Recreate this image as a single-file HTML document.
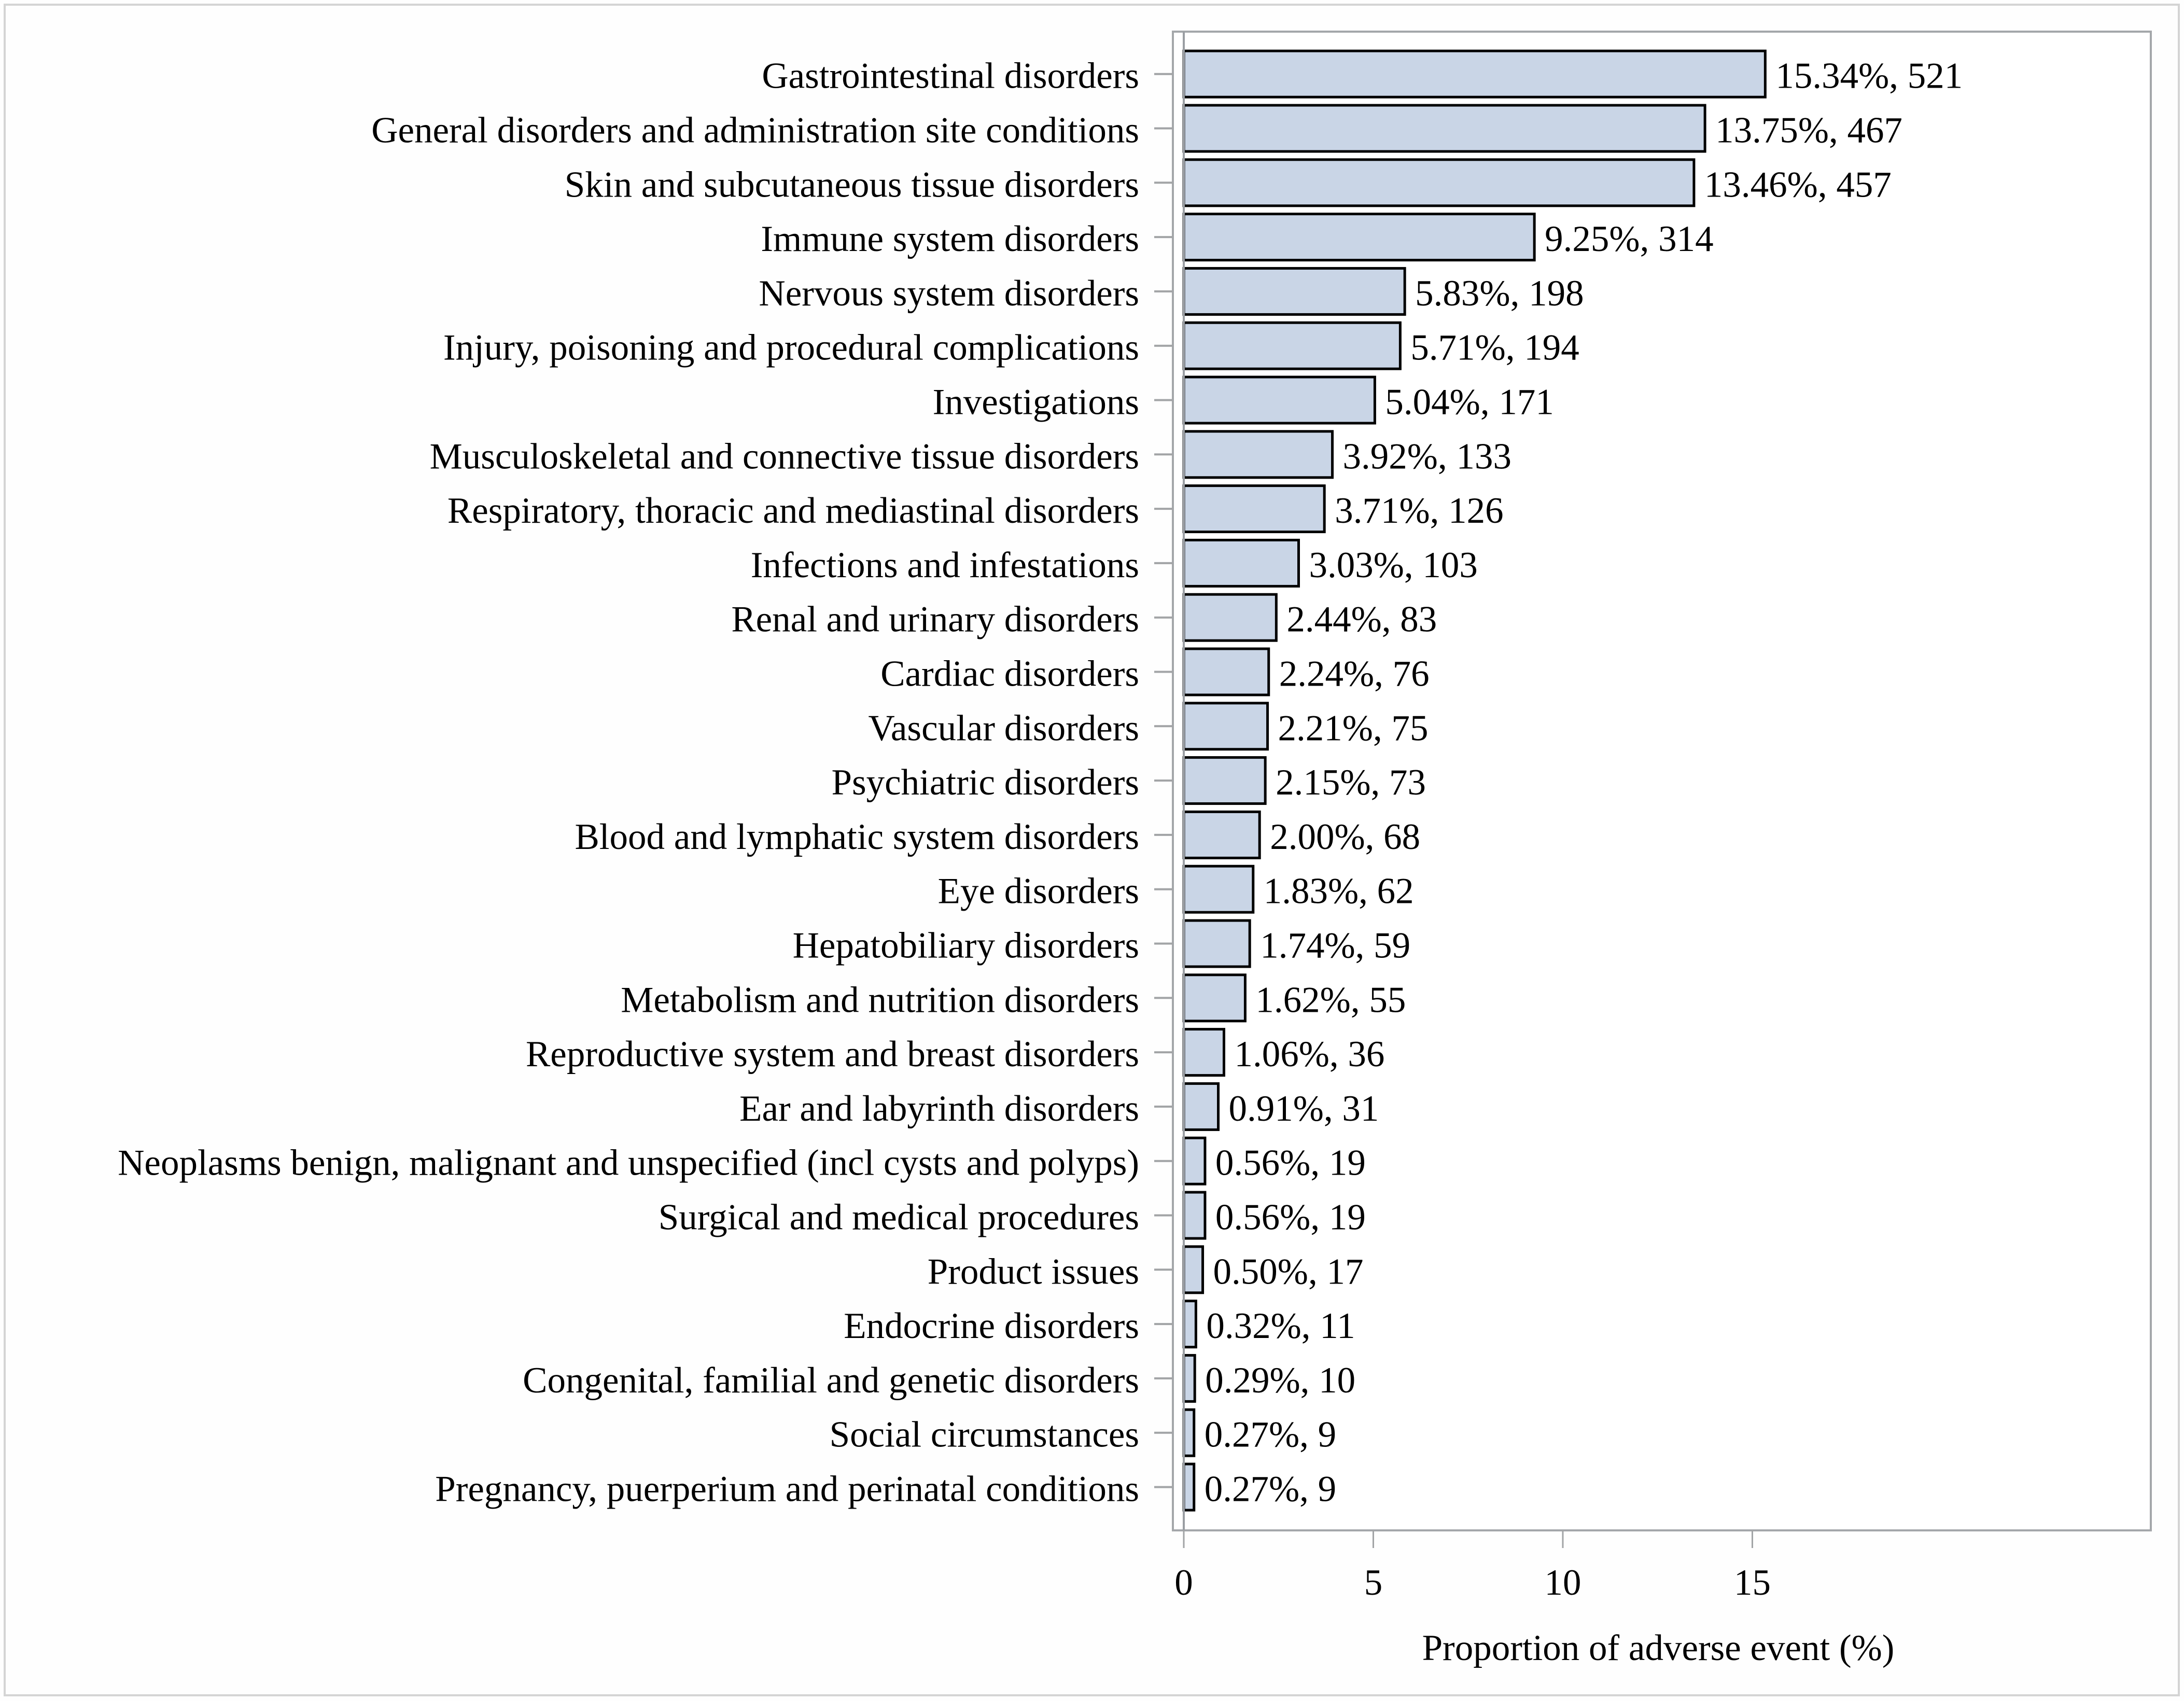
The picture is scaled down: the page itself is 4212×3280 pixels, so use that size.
<!DOCTYPE html>
<html lang="en">
<head>
<meta charset="utf-8">
<title>Proportion of adverse event by system organ class</title>
<style>
html,body{margin:0;padding:0;background:#fff;width:4212px;height:3280px;overflow:hidden}
svg{display:block}
text{font-family:"Liberation Serif",serif;font-size:71px;fill:#000}
</style>
</head>
<body>
<svg id="chart" width="4212" height="3280" viewBox="0 0 4212 3280" xmlns="http://www.w3.org/2000/svg">
<rect x="0" y="0" width="4212" height="3280" fill="#fefefe"/>
<rect x="9" y="9" width="4193" height="3260" fill="none" stroke="#d4d4d4" stroke-width="4"/>
<rect x="2262" y="61" width="1886" height="2890" fill="#fff" stroke="#a4a7aa" stroke-width="4"/>
<text x="3198" y="3201" text-anchor="middle">Proportion of adverse event (%)</text>
</svg>
<script>
const categories = [
  "Gastrointestinal disorders",
  "General disorders and administration site conditions",
  "Skin and subcutaneous tissue disorders",
  "Immune system disorders",
  "Nervous system disorders",
  "Injury, poisoning and procedural complications",
  "Investigations",
  "Musculoskeletal and connective tissue disorders",
  "Respiratory, thoracic and mediastinal disorders",
  "Infections and infestations",
  "Renal and urinary disorders",
  "Cardiac disorders",
  "Vascular disorders",
  "Psychiatric disorders",
  "Blood and lymphatic system disorders",
  "Eye disorders",
  "Hepatobiliary disorders",
  "Metabolism and nutrition disorders",
  "Reproductive system and breast disorders",
  "Ear and labyrinth disorders",
  "Neoplasms benign, malignant and unspecified (incl cysts and polyps)",
  "Surgical and medical procedures",
  "Product issues",
  "Endocrine disorders",
  "Congenital, familial and genetic disorders",
  "Social circumstances",
  "Pregnancy, puerperium and perinatal conditions"
];
const percentages = [15.34,13.75,13.46,9.25,5.83,5.71,5.04,3.92,3.71,3.03,2.44,2.24,2.21,2.15,2.00,1.83,1.74,1.62,1.06,0.91,0.56,0.56,0.50,0.32,0.29,0.27,0.27];
const counts = [521,467,457,314,198,194,171,133,126,103,83,76,75,73,68,62,59,55,36,31,19,19,17,11,10,9,9];
const xTickValues = [0,5,10,15];

const NS = "http://www.w3.org/2000/svg";
const svg = document.getElementById("chart");
const X0 = 2283, X_UNIT = 73.1, Y0 = 142.7, Y_STEP = 104.8;
const BAR_H = 89, PLOT_TOP = 61, PLOT_BOTTOM = 2951;
const xScale = v => X0 + v * X_UNIT;
const yScale = i => Y0 + i * Y_STEP;

function make(tag, attrs, parent) {
  const el = document.createElementNS(NS, tag);
  Object.keys(attrs).forEach(k => el.setAttribute(k, attrs[k]));
  (parent || svg).appendChild(el);
  return el;
}

categories.forEach((name, i) => {
  const y = yScale(i);
  const tick = make("line", {x1: 2226, x2: 2261, y1: y, y2: y, stroke: "#a2a4a6", "stroke-width": 4});
  
  

  const label = make("text", {x: 2197, y: y + 27, "text-anchor": "end"});
  label.textContent = name;
  
  

  const bar = make("rect", {x: X0, y: y - BAR_H / 2, width: xScale(percentages[i]) - X0, height: BAR_H, fill: "#c9d5e6", stroke: "#000", "stroke-width": 5});
  
  

  const value = make("text", {x: xScale(percentages[i]) + 20, y: y + 27});
  value.textContent = percentages[i].toFixed(2) + "%, " + counts[i];
  
  
});

const zeroLine = make("line", {x1: X0, x2: X0, y1: PLOT_TOP, y2: PLOT_BOTTOM, stroke: "#9a9ea3", "stroke-width": 4});



xTickValues.forEach(v => {
  const x = xScale(v);
  const tick = make("line", {x1: x, x2: x, y1: PLOT_BOTTOM, y2: 2985, stroke: "#a2a4a6", "stroke-width": 3});
  
  

  const label = make("text", {x: x, y: 3075, "text-anchor": "middle"});
  label.textContent = v;
  
  
});
</script>
</body>
</html>
